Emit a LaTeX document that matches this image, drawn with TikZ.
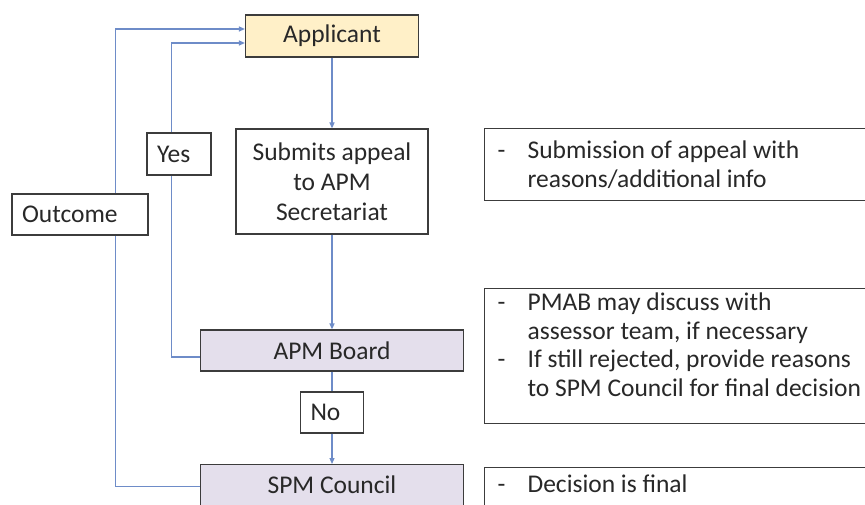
\documentclass[tikz,border=0pt]{standalone}
\usepackage{fontspec}
\setmainfont{Carlito}
\usetikzlibrary{arrows.meta}
\definecolor{linec}{RGB}{110,140,200}
\definecolor{boxc}{RGB}{60,60,60}
\definecolor{txtc}{RGB}{40,40,40}
\definecolor{appc}{RGB}{255,240,200}
\definecolor{boardc}{RGB}{228,223,236}
\tikzset{
  box/.style={draw=boxc, line width=1.2pt, text=txtc, inner sep=0pt,
    font=\fontsize{25.5}{30}\selectfont},
  lbl/.style={box, fill=white, align=left, inner xsep=10pt, inner ysep=0pt},
  rbox/.style={box, anchor=north west, inner xsep=13pt, inner ysep=0pt,
    font=\fontsize{25.5}{28.5}\selectfont},
  arr/.style={draw=linec, line width=1.2pt, -{Triangle[length=6pt,width=5pt]}},
  ln/.style={draw=linec, line width=1.2pt}
}
\begin{document}
\begin{tikzpicture}[x=1pt,y=-1pt]
\useasboundingbox (0,0) rectangle (865,505);
\clip (0,0) rectangle (865,505);
\fill[white] (0,0) rectangle (865,505);

% main flow
\node[box, fill=appc, minimum width=173pt, minimum height=42pt] (app) at (332,36) {Applicant};
\node[box, fill=white, minimum width=192pt, minimum height=105pt, align=center] (sub) at (332,181.5) {Submits appeal\\to APM\\Secretariat};
\node[box, fill=boardc, minimum width=263pt, minimum height=41pt] (apm) at (332,350.5) {APM Board};
\node[box, fill=boardc, minimum width=263pt, minimum height=60pt, anchor=north] (spm) at (332,464) {\raisebox{20pt}{SPM Council}};
\node[lbl, text width=43pt, minimum height=41pt] (no) at (332,412.5) {No};

\draw[arr] (app) -- (sub);
\draw[arr] (sub) -- (apm);
\draw[ln] (apm) -- (no);
\draw[arr] (no) -- (spm);

% feedback loops
\coordinate (yin) at ([yshift=-7pt]app.west);
\coordinate (yout) at ([yshift=7pt]app.west);
\coordinate (apmout) at ([yshift=-6.5pt]apm.west);
\coordinate (spmout) at ([yshift=8pt]spm.west);
\coordinate (xin) at (171.5,0);
\coordinate (xout) at (115.5,0);
\draw[arr] (apmout) -- (apmout -| xin) -- (yin -| xin) -- (yin);
\draw[arr] (spmout) -- (spmout -| xout) -- (yout -| xout) -- (yout);

\node[lbl, text width=44pt, minimum height=42pt] (yes) at (179,154) {Yes};
\node[lbl, text width=116pt, minimum height=41pt] (outc) at (80,214.5) {Outcome};

% notes
\node[rbox] (n1) at (484,128) {\parbox[c][72pt][t]{400pt}{\vspace*{10pt}\begin{tabular}{@{}p{30pt}@{}l@{}}-&Submission of appeal with\\&reasons/additional info\end{tabular}}};
\node[rbox] (n2) at (484,288) {\parbox[c][135pt][t]{400pt}{\vspace*{2pt}\begin{tabular}{@{}p{30pt}@{}l@{}}-&PMAB may discuss with\\&assessor team, if necessary\\-&If still rejected, provide reasons\\&to SPM Council for final decision\end{tabular}}};
\node[rbox] (n3) at (484,467) {\parbox[c][60pt][t]{400pt}{\vspace*{5pt}\begin{tabular}{@{}p{30pt}@{}l@{}}-&Decision is final\end{tabular}}};
\end{tikzpicture}
\end{document}
